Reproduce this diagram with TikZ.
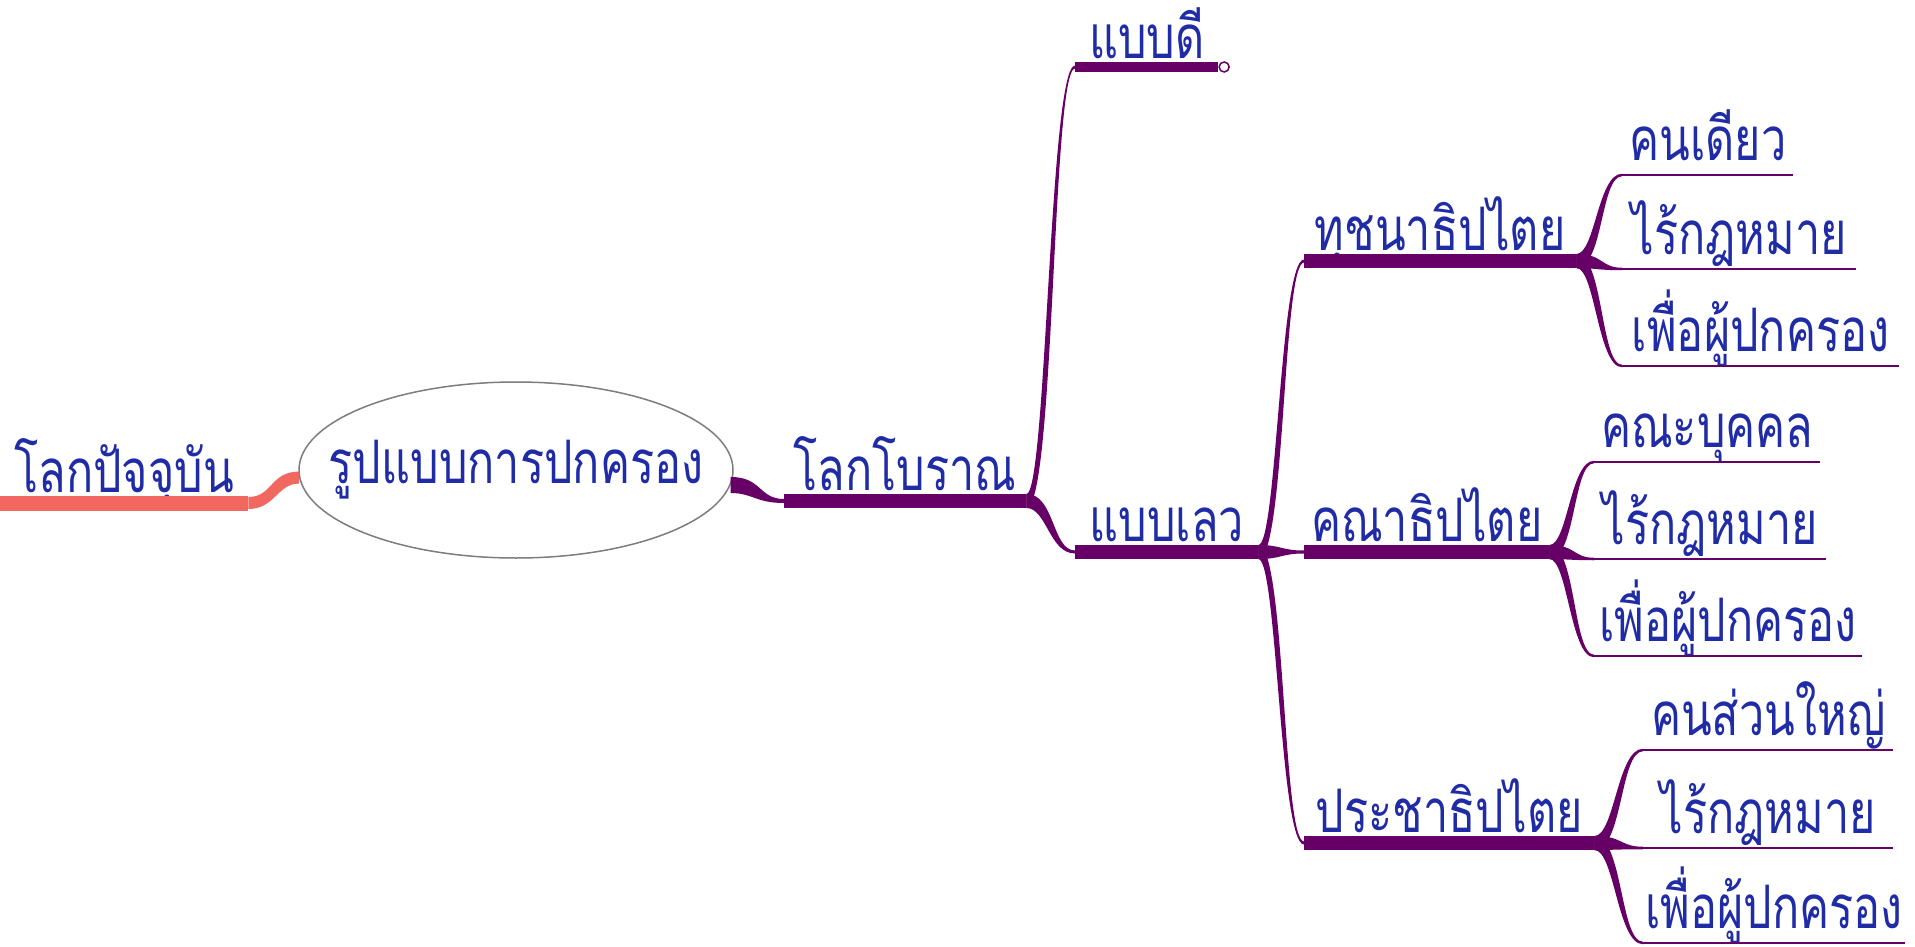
\documentclass[tikz,border=0pt]{standalone}
\usepackage{fontspec}
\newfontfamily\thaifont[Script=Thai,FakeStretch=0.75]{Loma}
\usepackage{tikz}
\usetikzlibrary{shapes.geometric,calc}

\definecolor{mmpurple}{RGB}{102,0,102}
\definecolor{mmblue}{RGB}{32,44,165}
\definecolor{mmpink}{RGB}{242,104,96}
\definecolor{mmgray}{RGB}{125,125,125}

\newcommand{\topicfont}{\thaifont\fontsize{60}{66}\selectfont}

\tikzset
{
    topicnode/.style = {anchor=south west, inner xsep=0pt, inner ysep=10pt,
                        text depth=0pt, text=mmblue, font=\topicfont},
    leafnode/.style = {topicnode, inner ysep=14pt},
    rootnode/.style = {ellipse, draw=mmgray, line width=1.5pt, text=mmblue,
                       inner xsep=-80pt, inner ysep=0pt,
                       minimum width=434pt, minimum height=176pt, font=\topicfont},
    bar/.style = {line width=14pt, mmpurple},
    leafline/.style = {line width=2.5pt, mmpurple}
}

% tapered connector: [colour]{parent point}{child point}{half width at parent}{half width at child}
\newcommand{\branch}[5][mmpurple]{%
  \fill[#1] let \p1=(#2), \p2=(#3), \n1={0.5*(\x2-\x1)},
      \n2={0.6*sign(\y2-\y1)*sign(\x2-\x1)*#4} in
    (\x1,\y1+#4) .. controls (\x1+\n1-\n2,\y1+#4) and (\x2-\n1-0.3*\n2,\y2+#5) .. (\x2,\y2+#5)
    -- (\x2,\y2-#5) .. controls (\x2-\n1+0.3*\n2,\y2-#5) and (\x1+\n1+\n2,\y1-#4) .. (\x1,\y1-#4)
    -- cycle;}

\begin{document}
\begin{tikzpicture}[x=1pt, y=-1pt]
    \useasboundingbox[fill=white] (0,0) rectangle (1915,947);

    % main topics
    \node[rootnode] (root) at (516,470) {รูปแบบการปกครอง};
    \node[topicnode, minimum width=248pt] (now) at (0,503) {โลกปัจจุบัน};
    \node[topicnode, minimum width=242pt] (ancient) at (784,501) {โลกโบราณ};
    \node[topicnode, minimum width=143pt, inner ysep=8pt] (good) at (1075,67) {แบบดี};
    \node[topicnode, minimum width=183pt] (bad) at (1075,552) {แบบเลว};
    \node[topicnode, minimum width=272pt] (tyranny) at (1304,261) {ทุชนาธิปไตย};
    \node[topicnode, minimum width=245pt] (oligarchy) at (1304,552) {คณาธิปไตย};
    \node[topicnode, minimum width=290pt] (democracy) at (1304,843) {ประชาธิปไตย};

    % leaves
    \node[leafnode, minimum width=171pt] (t1) at (1622,175) {คนเดียว};
    \node[leafnode, minimum width=234pt] (t2) at (1622,269) {ไร้กฎหมาย};
    \node[leafnode, minimum width=277pt] (t3) at (1622,366) {เพื่อผู้ปกครอง};
    \node[leafnode, minimum width=226pt] (o1) at (1594,462) {คณะบุคคล};
    \node[leafnode, minimum width=232pt] (o2) at (1594,559) {ไร้กฎหมาย};
    \node[leafnode, minimum width=268pt] (o3) at (1594,656) {เพื่อผู้ปกครอง};
    \node[leafnode, minimum width=250pt] (d1) at (1643,750) {คนส่วนใหญ่};
    \node[leafnode, minimum width=250pt] (d2) at (1643,848) {ไร้กฎหมาย};
    \node[leafnode, minimum width=262pt] (d3) at (1643,943) {เพื่อผู้ปกครอง};

    % connectors
    \branch[mmpink]{root.182}{now.south east}{6pt}{6pt}
    \branch{root.-4}{ancient.south west}{8pt}{2pt}
    \foreach \parent/\child in {ancient/good, ancient/bad, bad/tyranny, bad/oligarchy,
        bad/democracy}
        \branch{\parent.south east}{\child.south west}{7pt}{1.5pt};
    \foreach \parent/\child in {tyranny/t1, tyranny/t2, tyranny/t3, oligarchy/o1,
        oligarchy/o2, oligarchy/o3, democracy/d1, democracy/d2, democracy/d3}
        \branch{\parent.south east}{\child.south west}{7pt}{1.25pt};

    % bars and lines under the texts
    \draw[bar, mmpink, line width=15pt] (now.south west) -- (now.south east);
    \foreach \topic in {ancient, bad, tyranny, oligarchy, democracy}
        \draw[bar] (\topic.south west) -- (\topic.south east);
    \draw[bar, line width=10pt] (good.south west) -- (good.south east);
    \foreach \leaf in {t1, t2, t3, o1, o2, o3, d1, d2, d3}
        \draw[leafline] (\leaf.south west) -- (\leaf.south east);
    \node[circle, draw=mmpurple, fill=white, line width=1.5pt, inner sep=0pt,
        minimum size=10pt, anchor=west] (goodend) at (good.south east) {};
\end{tikzpicture}
\end{document}
